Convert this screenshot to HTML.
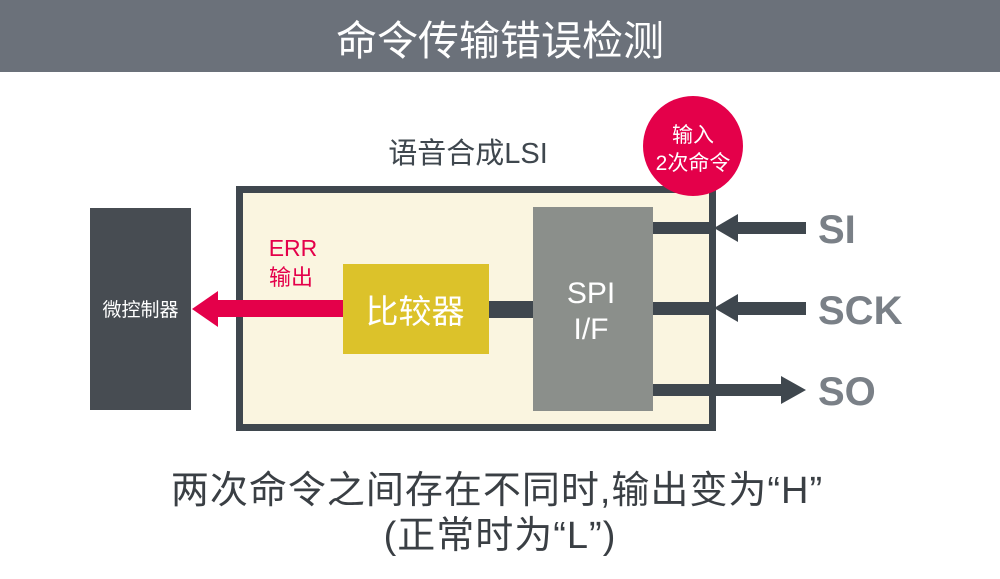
<!DOCTYPE html>
<html><head><meta charset="utf-8"><style>
html,body{margin:0;padding:0;background:#fff;}
svg{display:block}
text{font-family:"Liberation Sans","Noto Sans CJK SC",sans-serif;}
</style></head><body>
<svg width="1000" height="579" viewBox="0 0 1000 579" xmlns="http://www.w3.org/2000/svg">
<rect x="0" y="0" width="1000" height="72" fill="#6b717a"/>
<text x="500" y="55" font-size="41" fill="#fff" text-anchor="middle">命令传输错误检测</text>

<text x="468" y="163" font-size="29" fill="#3f474e" text-anchor="middle">语音合成LSI</text>

<rect x="239.5" y="189.5" width="473" height="238" fill="#faf5e0" stroke="#3f474e" stroke-width="7"/>

<rect x="90" y="208" width="101" height="202" fill="#474c52"/>
<text x="140.5" y="316" font-size="19" fill="#fff" text-anchor="middle">微控制器</text>

<rect x="216" y="300" width="128" height="17" fill="#e4004a"/>
<polygon points="192,309 218,291 218,327" fill="#e4004a"/>
<text x="293" y="256" font-size="23" fill="#e4004a" text-anchor="middle">ERR</text>
<text x="291" y="285" font-size="22" fill="#e4004a" text-anchor="middle">输出</text>

<rect x="343" y="264" width="146" height="90" fill="#dcc22a"/>
<text x="415" y="323" font-size="33" fill="#fff" text-anchor="middle">比较器</text>

<rect x="489" y="301" width="45" height="17" fill="#3f474e"/>

<rect x="533" y="207" width="120" height="204" fill="#8b8f8b"/>
<text x="591" y="303" font-size="30" fill="#fff" text-anchor="middle">SPI</text>
<text x="591" y="339" font-size="30" fill="#fff" text-anchor="middle">I/F</text>

<rect x="653" y="222" width="60" height="12" fill="#3f474e"/>
<rect x="653" y="302" width="60" height="13" fill="#3f474e"/>
<rect x="653" y="384" width="60" height="12" fill="#3f474e"/>

<rect x="736" y="222" width="70" height="12" fill="#3f474e"/>
<polygon points="714,228 738,214 738,242" fill="#3f474e"/>
<rect x="736" y="302" width="70" height="13" fill="#3f474e"/>
<polygon points="714,308 738,294 738,322" fill="#3f474e"/>
<rect x="713" y="384" width="70" height="12" fill="#3f474e"/>
<polygon points="806,390 781,376 781,404" fill="#3f474e"/>

<text x="818" y="243" font-size="40" font-weight="bold" fill="#7a8087">SI</text>
<text x="818" y="324" font-size="40" font-weight="bold" fill="#7a8087">SCK</text>
<text x="818" y="405" font-size="40" font-weight="bold" fill="#7a8087">SO</text>

<circle cx="693" cy="146" r="50" fill="#e4004a"/>
<text x="693" y="142" font-size="21" fill="#fff" text-anchor="middle">输入</text>
<text x="693" y="170" font-size="21" fill="#fff" text-anchor="middle">2次命令</text>

<text x="497" y="503" font-size="38" fill="#3a3f44" text-anchor="middle" letter-spacing="1">两次命令之间存在不同时,输出变为“H”</text>
<text x="500" y="548" font-size="38" fill="#3a3f44" text-anchor="middle" letter-spacing="1">(正常时为“L”)</text>
</svg>
</body></html>
